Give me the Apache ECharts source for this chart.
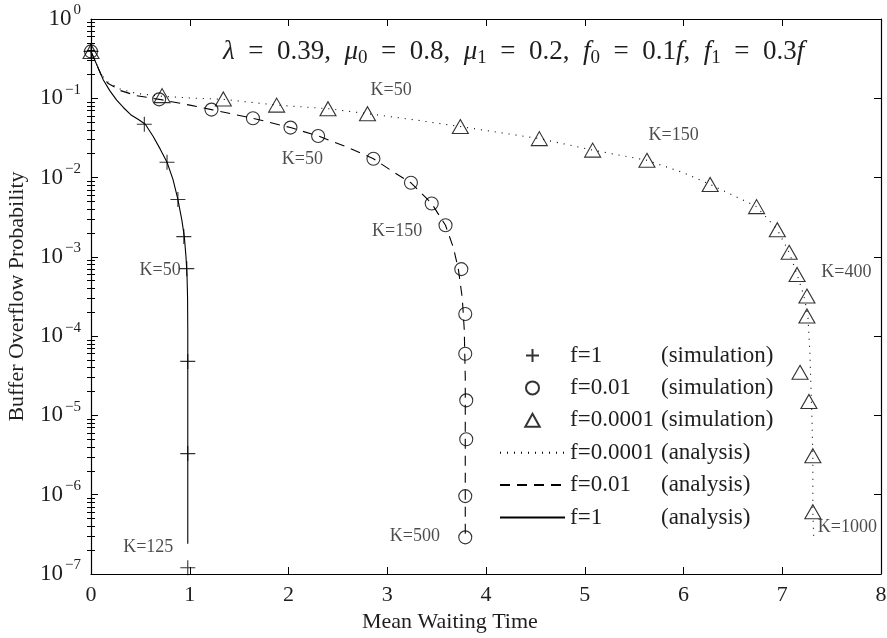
<!DOCTYPE html>
<html>
<head>
<meta charset="utf-8">
<script src="https://cdn.jsdelivr.net/npm/echarts@6/dist/echarts.min.js"></script>
<style>
html, body { margin: 0; padding: 0; background: #fff; }
#chart { width: 887px; height: 638px; }
</style>
</head>
<body>
<div id="chart"></div>
<script>
// f=1 simulation (+)
var simF1X = [0, 0.54, 0.77, 0.88, 0.94, 0.97, 0.98, 0.98, 0.98];
var simF1Y = [0.39, 0.047, 0.0156, 0.0053, 0.0018, 7.1e-4, 4.8e-5, 3.3e-6, 1.2e-7];

// f=0.01 simulation (circles)
var simF2X = [0, 0.69, 1.22, 1.64, 2.02, 2.30, 2.86, 3.24, 3.45, 3.59, 3.75, 3.79, 3.79, 3.80, 3.80, 3.79, 3.79];
var simF2Y = [0.39, 0.097, 0.072, 0.056, 0.0427, 0.0335, 0.0173, 0.0086, 0.0047, 0.0025, 7.0e-4, 1.9e-4, 6.0e-5, 1.55e-5, 5.0e-6, 9.6e-7, 2.9e-7];

// f=0.0001 simulation (triangles)
var simF3X = [0, 0.72, 1.34, 1.88, 2.40, 2.80, 3.74, 4.54, 5.08, 5.63, 6.27, 6.74, 6.95, 7.07, 7.15, 7.25, 7.25, 7.18, 7.27, 7.31, 7.31];
var simF3Y = [0.39, 0.108, 0.098, 0.082, 0.074, 0.064, 0.0440, 0.031, 0.0222, 0.0165, 0.0082, 0.0043, 0.0022, 0.00114, 6.0e-4, 3.2e-4, 1.8e-4, 3.5e-5, 1.5e-5, 3.1e-6, 6.1e-7];

// f=1 analysis (solid)
var anaF1X = [0, 0.04, 0.08, 0.125, 0.19, 0.26, 0.33, 0.41, 0.48, 0.55, 0.63, 0.70, 0.77, 0.83, 0.88, 0.92, 0.945, 0.962, 0.972, 0.978, 0.98, 0.98];
var anaF1Y = [0.39, 0.30, 0.23, 0.17, 0.125, 0.095, 0.076, 0.061, 0.054, 0.047, 0.033, 0.023, 0.0156, 0.0095, 0.0053, 0.0029, 0.0018, 0.001, 6e-4, 3e-4, 1.2e-4, 2.4e-7];

// f=0.01 analysis (dashed)
var anaF2X = [0, 0.05, 0.1, 0.17, 0.3, 0.46, 0.69, 1.0, 1.22, 1.64, 2.02, 2.30, 2.60, 2.86, 3.06, 3.24, 3.45, 3.59, 3.67, 3.72, 3.76, 3.78, 3.79, 3.79];
var anaF2Y = [0.39, 0.28, 0.20, 0.155, 0.125, 0.108, 0.097, 0.082, 0.072, 0.056, 0.0427, 0.0335, 0.024, 0.0173, 0.0118, 0.0086, 0.0047, 0.0025, 0.0013, 7e-4, 3e-4, 1.2e-4, 3e-5, 3e-7];

// f=0.0001 analysis (dotted)
var anaF3X = [0, 0.05, 0.1, 0.17, 0.3, 0.46, 0.72, 1.0, 1.34, 1.88, 2.40, 2.80, 3.30, 3.74, 4.54, 5.08, 5.63, 6.00, 6.27, 6.50, 6.74, 6.95, 7.07, 7.15, 7.22, 7.26, 7.28, 7.30, 7.31, 7.31, 7.32];
var anaF3Y = [0.39, 0.28, 0.20, 0.16, 0.13, 0.115, 0.106, 0.101, 0.097, 0.082, 0.074, 0.064, 0.053, 0.044, 0.031, 0.0222, 0.0165, 0.0115, 0.0082, 0.006, 0.0043, 0.0022, 0.00114, 6.0e-4, 3.2e-4, 1.8e-4, 6e-5, 1e-5, 3e-6, 6e-7, 2.6e-7];

// K annotations (data coordinates)
var annotX = [3.04, 2.14, 5.90, 3.10, 0.70, 0.58, 3.28, 7.65, 7.66];
var annotY = [0.126, 0.0172, 0.0342, 0.0021, 6.7e-4, 2.2e-7, 3.0e-7, 6.4e-4, 3.9e-7];
var annotText = ['K=50', 'K=50', 'K=150', 'K=150', 'K=50', 'K=125', 'K=500', 'K=400', 'K=1000'];

var legendNames = ['f=1 (simulation)', 'f=0.01 (simulation)', 'f=0.0001 (simulation)',
    'f=0.0001 (analysis)', 'f=0.01 (analysis)', 'f=1 (analysis)'];

var SERIF = '"Liberation Serif", "DejaVu Serif", serif';
var INK = '#1e1e1e';

function pairs(xs, ys) {
    return xs.map(function (x, i) { return [x, ys[i]]; });
}

// minor ticks at 2..9 x 10^e, in exponent space
var minorTicks = [];
for (var e = -7; e < 0; e++) {
    for (var k = 2; k <= 9; k++) minorTicks.push(e + Math.log10(k));
}

var myChart = echarts.init(document.getElementById('chart'));

var axisLineStyle = {color: '#000', width: 1.2};

function xAx(pos, labels) {
    return {
        type: 'value', min: 0, max: 8, interval: 1, position: pos,
        axisLine: {show: true, onZero: false, lineStyle: axisLineStyle},
        axisTick: {show: true, inside: true, length: 7, lineStyle: {color: '#000'}},
        axisLabel: {show: labels, fontSize: 22, fontFamily: SERIF, color: INK, margin: 10},
        splitLine: {show: false}
    };
}

function yMajor(pos, labels) {
    return {
        type: 'log', min: 1e-7, max: 1, position: pos,
        axisLine: {show: true, onZero: false, lineStyle: axisLineStyle},
        axisTick: {show: true, inside: true, length: 7, lineStyle: {color: '#000'}},
        axisLabel: {
            show: labels, margin: 10,
            formatter: function (v) {
                var ex = Math.round(Math.log10(v));
                return '{b|10}{s|' + (ex < 0 ? '\u2212' + (-ex) : ex) + '}';
            },
            rich: {
                b: {fontSize: 23, fontFamily: SERIF, color: INK, lineHeight: 32, verticalAlign: 'middle'},
                s: {fontSize: 15, fontFamily: SERIF, color: INK, lineHeight: 15, verticalAlign: 'top', padding: [0, 0, 0, 2]}
            }
        },
        splitLine: {show: false}
    };
}

function yMinor(pos) {
    return {
        type: 'value', min: -7, max: 0, position: pos,
        axisLine: {show: false},
        axisTick: {show: true, inside: true, length: 4, customValues: minorTicks, lineStyle: {color: '#000'}},
        axisLabel: {show: false},
        splitLine: {show: false}
    };
}

var SP = '\u2002';
var titleText = '{i|\u03bb}{n|' + SP + '=' + SP + '0.39,' + SP + '}{i|\u03bc}{s|0}{n|' + SP + '=' + SP + '0.8,' + SP + '}' +
    '{i|\u03bc}{s|1}{n|' + SP + '=' + SP + '0.2,' + SP + '}{i|f}{s|0}{n|' + SP + '=' + SP + '0.1}{i|f}{n|,' + SP + '}' +
    '{i|f}{s|1}{n|' + SP + '=' + SP + '0.3}{i|f}';

myChart.setOption({
    animation: false,
    backgroundColor: '#fff',
    grid: {left: 91, right: 6, top: 19, bottom: 64, containLabel: false, outerBoundsMode: 'none'},
    xAxis: [xAx('bottom', true), xAx('top', false)],
    yAxis: [
        Object.assign(yMajor('left', true), {
            name: 'Buffer Overflow Probability', nameLocation: 'middle', nameGap: 63, nameRotate: 90,
            nameTextStyle: {fontSize: 22, fontFamily: SERIF, color: INK}
        }),
        yMajor('right', false),
        yMinor('left'),
        yMinor('right')
    ],
    legend: {
        data: legendNames.map(function (n, i) {
            return i < 3 ? {name: n} : {name: n, itemStyle: {opacity: 0}};
        }),
        orient: 'vertical',
        left: 494,
        top: 339,
        itemWidth: 65,
        itemHeight: 13,
        itemGap: 9.4,
        selectedMode: false,
        formatter: function (name) {
            var p = name.split(' ');
            return '{a|' + p[0] + '}{b|' + p[1] + '}';
        },
        textStyle: {
            rich: {
                a: {fontSize: 23, fontFamily: SERIF, color: INK, width: 91, lineHeight: 22},
                b: {fontSize: 23, fontFamily: SERIF, color: INK, lineHeight: 22}
            }
        }
    },
    graphic: [
        {
            type: 'text', left: 223, top: 38, z: 100,
            style: {
                text: titleText,
                rich: {
                    i: {fontSize: 27, fontStyle: 'italic', fontFamily: SERIF, fill: INK, lineHeight: 32, verticalAlign: 'middle'},
                    n: {fontSize: 27, fontFamily: SERIF, fill: INK, lineHeight: 32, verticalAlign: 'middle'},
                    s: {fontSize: 19, fontFamily: SERIF, fill: INK, lineHeight: 19, verticalAlign: 'bottom'}
                }
            }
        },
        {
            type: 'text', left: 362, top: 611,
            style: {text: 'Mean Waiting Time', fontSize: 22, fontFamily: SERIF, fill: INK}
        }
    ],
    series: [
        {
            name: 'f=1 (analysis)', type: 'line', symbol: 'none', z: 2,
            data: pairs(anaF1X, anaF1Y),
            itemStyle: {color: '#000'},
            lineStyle: {color: '#000', width: 1.1, type: 'solid'}
        },
        {
            name: 'f=0.01 (analysis)', type: 'line', symbol: 'none', z: 2,
            data: pairs(anaF2X, anaF2Y),
            itemStyle: {color: '#000'},
            lineStyle: {color: '#000', width: 1.1, type: [10, 7]}
        },
        {
            name: 'f=0.0001 (analysis)', type: 'line', symbol: 'none', z: 2,
            data: pairs(anaF3X, anaF3Y),
            itemStyle: {color: '#000'},
            lineStyle: {color: '#000', width: 1.1, type: [1, 6]}
        },
        {
            name: 'f=1 (simulation)', type: 'scatter', z: 3,
            symbol: 'path://M0,5L10,5M5,0L5,10', symbolSize: 15,
            data: pairs(simF1X, simF1Y),
            itemStyle: {color: 'transparent', borderColor: '#000', borderWidth: 1.1}
        },
        {
            name: 'f=0.01 (simulation)', type: 'scatter', z: 3,
            symbol: 'circle', symbolSize: 13,
            data: pairs(simF2X, simF2Y),
            itemStyle: {color: 'transparent', borderColor: '#000', borderWidth: 1.1}
        },
        {
            name: 'f=0.0001 (simulation)', type: 'scatter', z: 3,
            symbol: 'path://M5,0L10,9L0,9Z', symbolSize: [16, 14],
            data: pairs(simF3X, simF3Y),
            itemStyle: {color: 'transparent', borderColor: '#000', borderWidth: 1.1}
        },
        {
            name: 'annotations', type: 'scatter', z: 4, silent: true,
            symbolSize: 1,
            data: annotX.map(function (x, i) { return [x, annotY[i], annotText[i]]; }),
            itemStyle: {color: 'transparent'},
            label: {
                show: true, position: 'inside',
                formatter: function (p) { return p.data[2]; },
                fontSize: 18, fontFamily: SERIF, color: INK
            }
        }
    ]
});
</script>
</body>
</html>
